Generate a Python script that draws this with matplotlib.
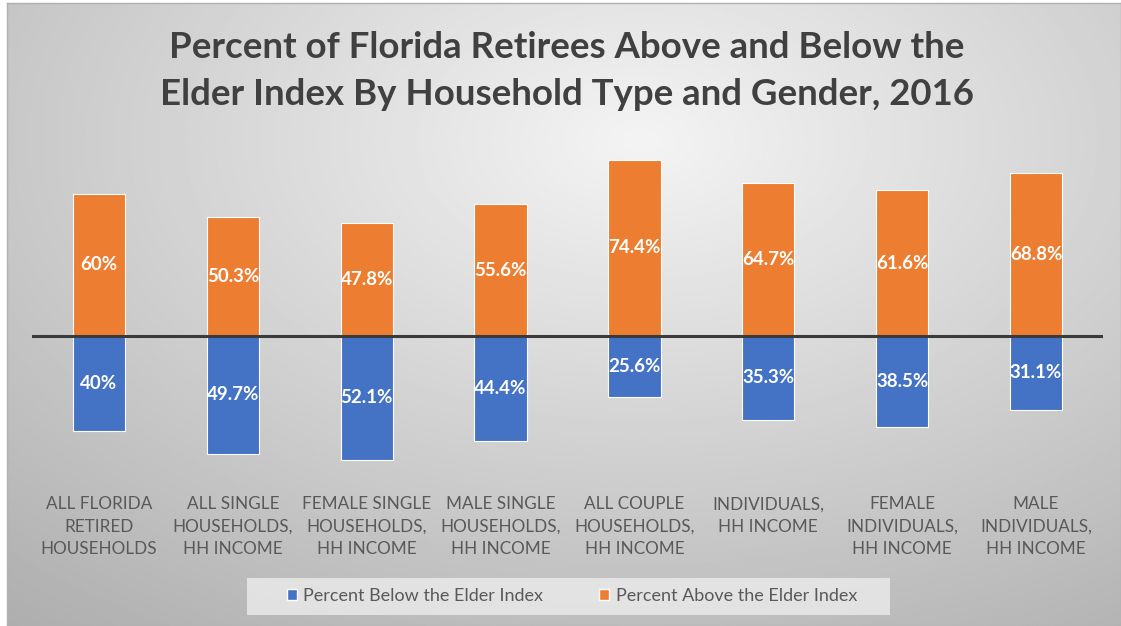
import numpy as np
import matplotlib.pyplot as plt
from matplotlib.patches import Patch, Rectangle

categories = ["ALL FLORIDA\nRETIRED\nHOUSEHOLDS",
              "ALL SINGLE\nHOUSEHOLDS,\nHH INCOME",
              "FEMALE SINGLE\nHOUSEHOLDS,\nHH INCOME",
              "MALE SINGLE\nHOUSEHOLDS,\nHH INCOME",
              "ALL COUPLE\nHOUSEHOLDS,\nHH INCOME",
              "INDIVIDUALS,\nHH INCOME\n",
              "FEMALE\nINDIVIDUALS,\nHH INCOME",
              "MALE\nINDIVIDUALS,\nHH INCOME"]
above = [60, 50.3, 47.8, 55.6, 74.4, 64.7, 61.6, 68.8]
below = [40, 49.7, 52.1, 44.4, 25.6, 35.3, 38.5, 31.1]
above_labels = ["60%", "50.3%", "47.8%", "55.6%", "74.4%", "64.7%", "61.6%", "68.8%"]
below_labels = ["40%", "49.7%", "52.1%", "44.4%", "25.6%", "35.3%", "38.5%", "31.1%"]

title = "Percent of Florida Retirees Above and Below the\nElder Index By Household Type and Gender, 2016"

orange = "#ED7D31"
blue = "#4472C4"
W, H = 1121, 626

plt.rcParams['font.family'] = ['Lato', 'DejaVu Sans']
fig = plt.figure(figsize=(W / 100, H / 100), dpi=100)
fig.patch.set_facecolor('white')

# background gradient
bg = fig.add_axes([7 / W, 0, 1 - 7 / W, 1 - 3 / H])
yy, xx = np.mgrid[0:1:300j, 0:1:540j]
d = np.sqrt(((xx - 0.57) / 1.0) ** 2 + ((yy - 0.22) / 1.1) ** 2)
val = 0.955 - 0.30 * d
bg.imshow(val, cmap='gray', vmin=0, vmax=1, aspect='auto',
          extent=(0, 1, 0, 1), origin='upper')
bg.set_xticks([])
bg.set_yticks([])
for s in bg.spines.values():
    s.set_color('#b0b0b0')
    s.set_linewidth(1)

# main chart
ax = fig.add_axes([32 / W, 1 - 470 / H, (1103 - 32) / W, 330 / H])
ax.patch.set_alpha(0)
x = np.arange(len(categories))
bw = 0.39
ax.bar(x, above, width=bw, color=orange, edgecolor='white', linewidth=0.8)
ax.bar(x, [-v for v in below], width=bw, color=blue, edgecolor='white', linewidth=0.8)
ax.axhline(0, color='#3a3a3a', linewidth=2.2)

for i in range(len(categories)):
    ax.text(x[i], above[i] / 2, above_labels[i], ha='center', va='center',
            color='white', fontsize=13.5, fontweight='bold')
    ax.text(x[i], -below[i] / 2, below_labels[i], ha='center', va='center',
            color='white', fontsize=13.5, fontweight='bold')

ax.set_xlim(-0.5, 7.5)
ax.set_ylim(-56.5, 82.7)
ax.set_yticks([])
ax.set_xticks(x)
ax.set_xticklabels(categories, fontsize=12.3, color='#595959', linespacing=1.49)
ax.tick_params(axis='x', length=0, pad=19)
for s in ax.spines.values():
    s.set_visible(False)

fig.text(567 / W, 1 - 71 / H, title, ha='center', va='center', fontsize=26.4,
         fontweight='bold', color='#404040', linespacing=1.5)

# legend band
fig.patches.append(Rectangle((247 / W, 1 - 615 / H), (890 - 247) / W, 37 / H,
                             transform=fig.transFigure, facecolor='#ececec',
                             edgecolor='none', alpha=0.8, zorder=1))

handles = [Patch(facecolor=blue, edgecolor='white', label="Percent Below the Elder Index"),
           Patch(facecolor=orange, edgecolor='white', label="Percent Above the Elder Index")]
leg = fig.legend(handles=handles, loc='center', bbox_to_anchor=(572 / W, 1 - 596 / H),
                 ncol=2, frameon=False, fontsize=13,
                 handlelength=0.55, handleheight=0.55, handletextpad=0.35,
                 columnspacing=3.1, borderpad=0.5, borderaxespad=0,
                 labelcolor='#595959')
leg.set_zorder(2)

fig.savefig("out.png", dpi=100)
